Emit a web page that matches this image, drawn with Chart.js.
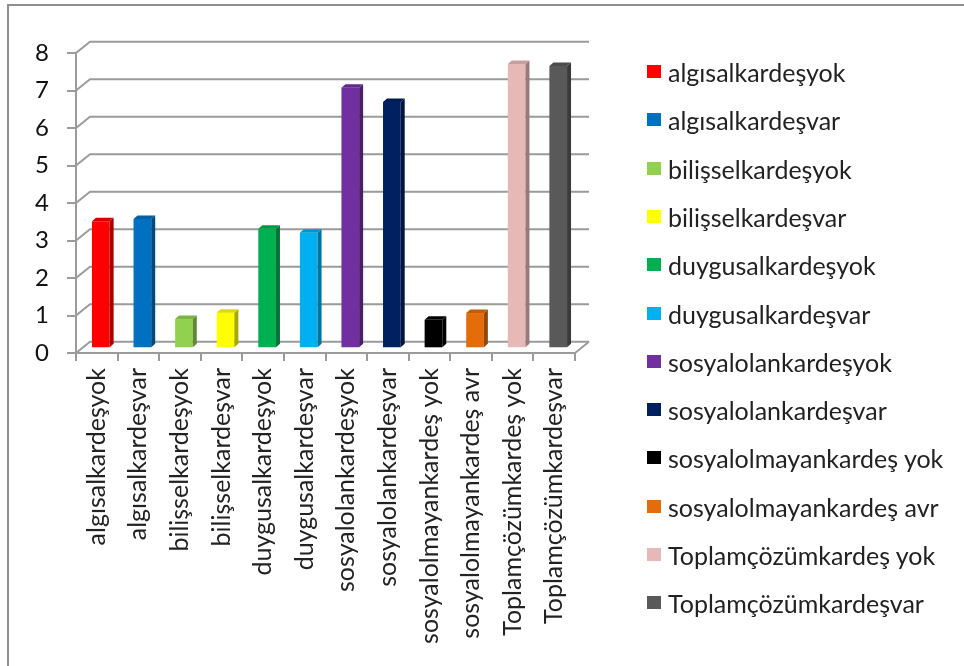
<!DOCTYPE html>
<html>
<head>
<meta charset="utf-8">
<title>Kardeş durumu</title>
<script src="https://cdn.jsdelivr.net/npm/chart.js@4"></script>
<style>
  html, body { margin: 0; padding: 0; background: #fff; }
  #wrap { position: relative; width: 964px; height: 666px; overflow: hidden; }
  #frame { position: absolute; left: 7px; top: 4px; width: 1000px; height: 700px; border: 2px solid #8f8f8f; box-sizing: border-box; }
  #chart { position: absolute; left: 0; top: 0; }
  #legend { position: absolute; left: 0; top: 0; font-family: Lato, "Open Sans", sans-serif; font-size: 25px; color: #222; }
  .item { position: absolute; left: 647px; height: 26px; line-height: 26px; white-space: nowrap; }
  .sw { position: absolute; left: 0; top: 6px; width: 14px; height: 13px; }
  .tx { position: absolute; left: 21px; top: 0; }
</style>
</head>
<body>
<div id="wrap">
  <div id="frame"></div>
  <canvas id="chart" width="964" height="666"></canvas>
  <div id="legend"></div>
</div>
<script>
// Categories (one column each) and their mean scores
const categories = [
  'algısalkardeşyok',
  'algısalkardeşvar',
  'bilişselkardeşyok',
  'bilişselkardeşvar',
  'duygusalkardeşyok',
  'duygusalkardeşvar',
  'sosyalolankardeşyok',
  'sosyalolankardeşvar',
  'sosyalolmayankardeş yok',
  'sosyalolmayankardeş avr',
  'Toplamçözümkardeş yok',
  'Toplamçözümkardeşvar'
];
const values = [3.39, 3.45, 0.78, 0.95, 3.19, 3.08, 6.95, 6.57, 0.76, 0.94, 7.58, 7.53];
const yMin = 0;
const yMax = 8;
const yStep = 1;

const barColors = [
  '#FF0000', '#0070C0', '#92D050', '#FFFF00', '#00B050', '#00B0F0',
  '#7030A0', '#002060', '#000000', '#E46C0A', '#E6B9B8', '#595959'
];

// Oblique projection offsets for the fake 3D look
const WALL = { dx: 14, dy: -11.3 };   // front plane -> back wall
const BARS = { dx: 4, dy: -4.7 };     // front plane -> front face of the columns
const DEPTH = { dx: 4, dy: -3.5 };    // thickness of each column
const LINE = '#9b9b9b';
const FONT = 'Lato, "Open Sans", sans-serif';

function shade(hex, f) {
  const n = parseInt(hex.slice(1), 16);
  const r = Math.round(((n >> 16) & 255) * f);
  const g = Math.round(((n >> 8) & 255) * f);
  const b = Math.round((n & 255) * f);
  return `rgb(${r},${g},${b})`;
}

const wallPlugin = {
  id: 'wall',
  beforeDatasetsDraw(chart) {
    const { ctx, chartArea, scales } = chart;
    const y = scales.y;
    ctx.save();
    ctx.strokeStyle = LINE;
    ctx.lineWidth = 2;
    for (let v = yMin; v <= yMax; v += yStep) {
      const py = y.getPixelForValue(v);
      ctx.beginPath();
      ctx.moveTo(chartArea.left, py);
      ctx.lineTo(chartArea.left + WALL.dx, py + WALL.dy);
      ctx.lineTo(chartArea.right + WALL.dx, py + WALL.dy);
      ctx.stroke();
    }
    // right edge of the floor
    ctx.beginPath();
    ctx.moveTo(chartArea.right, chartArea.bottom);
    ctx.lineTo(chartArea.right + WALL.dx, chartArea.bottom + WALL.dy);
    ctx.stroke();
    ctx.restore();
    // columns are drawn slightly behind the front plane
    ctx.save();
    ctx.translate(BARS.dx, BARS.dy);
  },
  afterDatasetsDraw(chart) {
    const { ctx } = chart;
    const meta = chart.getDatasetMeta(0);
    meta.data.forEach((bar, i) => {
      const { x, y, base, width } = bar.getProps(['x', 'y', 'base', 'width'], true);
      const l = x - width / 2, r = x + width / 2;
      const col = barColors[i];
      // right side face
      ctx.fillStyle = shade(col, 0.66);
      ctx.beginPath();
      ctx.moveTo(r, y);
      ctx.lineTo(r + DEPTH.dx, y + DEPTH.dy);
      ctx.lineTo(r + DEPTH.dx, base + DEPTH.dy);
      ctx.lineTo(r, base);
      ctx.closePath();
      ctx.fill();
      // top face
      ctx.fillStyle = shade(col, 0.86);
      ctx.beginPath();
      ctx.moveTo(l, y);
      ctx.lineTo(l + DEPTH.dx, y + DEPTH.dy);
      ctx.lineTo(r + DEPTH.dx, y + DEPTH.dy);
      ctx.lineTo(r, y);
      ctx.closePath();
      ctx.fill();
    });
    ctx.restore();
  }
};

new Chart(document.getElementById('chart'), {
  type: 'bar',
  data: {
    labels: categories,
    datasets: [{
      data: values,
      backgroundColor: barColors,
      borderWidth: 0,
      barPercentage: 0.425,
      categoryPercentage: 1,
      clip: false
    }]
  },
  options: {
    responsive: false,
    animation: false,
    devicePixelRatio: 1,
    layout: { padding: { top: 53, right: 389, left: 0, bottom: 0 } },
    plugins: {
      legend: { display: false },
      tooltip: { enabled: false }
    },
    scales: {
      x: {
        grid: { display: true, drawOnChartArea: false, drawTicks: true, tickLength: 8, color: LINE, lineWidth: 2, offset: true },
        border: { display: true, color: LINE, width: 2 },
        ticks: { minRotation: 90, maxRotation: 90, autoSkip: false, padding: 7, color: '#222', font: { family: FONT, size: 25 } },
        afterFit(scale) { scale.height = 666 - 353; }
      },
      y: {
        min: yMin,
        max: yMax,
        grid: { display: true, drawOnChartArea: false, drawTicks: true, tickLength: 9, color: LINE, lineWidth: 2 },
        border: { display: true, color: LINE, width: 2 },
        ticks: { stepSize: yStep, padding: 18, color: '#111', font: { family: FONT, size: 24 } },
        afterFit(scale) { scale.width = 76; }
      }
    }
  },
  plugins: [wallPlugin]
});

// Legend: one entry per column
const legend = document.getElementById('legend');
categories.forEach((name, i) => {
  const item = document.createElement('div');
  item.className = 'item';
  item.style.top = (59 + i * 48.3) + 'px';
  const sw = document.createElement('span');
  sw.className = 'sw';
  sw.style.background = barColors[i];
  const tx = document.createElement('span');
  tx.className = 'tx';
  tx.textContent = name;
  item.appendChild(sw);
  item.appendChild(tx);
  legend.appendChild(item);
});
</script>
</body>
</html>
